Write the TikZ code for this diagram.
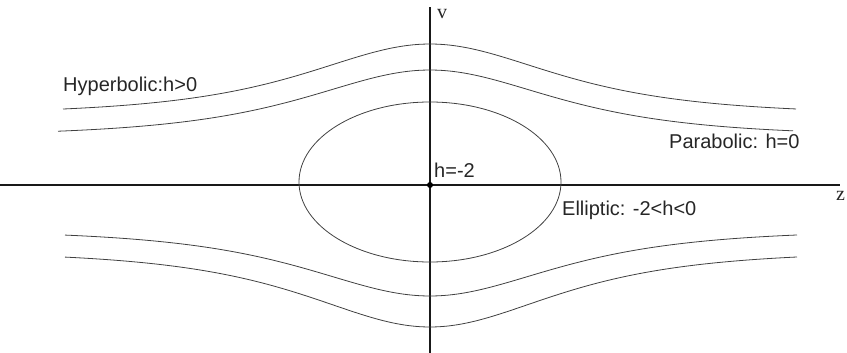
\documentclass[tikz,border=0pt]{standalone}
\usepackage{fontspec}
\setmainfont{Liberation Sans}
\newfontfamily\axisfont{Liberation Serif}
\begin{document}
\begin{tikzpicture}[x=1pt,y=-1pt,
  axis/.style={line width=2.2pt,black!90},
  orbit/.style={line width=0.8pt,black!75},
  lbl/.style={font=\fontsize{20}{24}\selectfont,anchor=base west,inner sep=0pt,text=black!85},
  axlbl/.style={font=\axisfont\fontsize{20}{24}\selectfont,anchor=base west,inner sep=0pt,text=black!85}]
\useasboundingbox (0,0) rectangle (847,353);
% axes
\coordinate (O) at (430,185);
\coordinate (xl) at (0,185);
\coordinate (xr) at (840,185);
\coordinate (yt) at (430,7);
\coordinate (yb) at (430,353);
\draw[axis] (xl) -- (xr);
\draw[axis] (yb) -- (yt);
\node[circle,fill=black,inner sep=0pt,minimum size=6pt] (dot) at (O) {};
% ellipse (elliptic orbit)
\draw[orbit] (430,182) ellipse [x radius=131, y radius=80];
% hyperbolic / parabolic orbits
\draw[orbit] plot[domain=-367:366,samples=160,smooth] ({430+\x},{109-65*((1/cosh(\x/110))-0.0712)/0.9288});
\draw[orbit] plot[domain=-372:363,samples=160,smooth] ({430+\x},{131-61*((1/cosh(\x/110))-0.0712)/0.9288});
\draw[orbit] plot[domain=-365:367,samples=160,smooth] ({430+\x},{235+61*((1/cosh(\x/110))-0.0712)/0.9288});
\draw[orbit] plot[domain=-365:367,samples=160,smooth] ({430+\x},{257+70*((1/cosh(\x/110))-0.0712)/0.9288});
% labels
\node[lbl] (hyp) at (63,92) {Hyperbolic:h>0};
\node[lbl] (par) at (669,149) {Parabolic: h=0};
\node[lbl] (hm2) at (434,177) {h=-2};
\node[lbl] (ell) at (562,215) {Elliptic: -2<h<0};
\node[axlbl] (vlab) at (437,19) {v};
\node[axlbl] (zlab) at (836,200) {z};
\end{tikzpicture}
\end{document}
